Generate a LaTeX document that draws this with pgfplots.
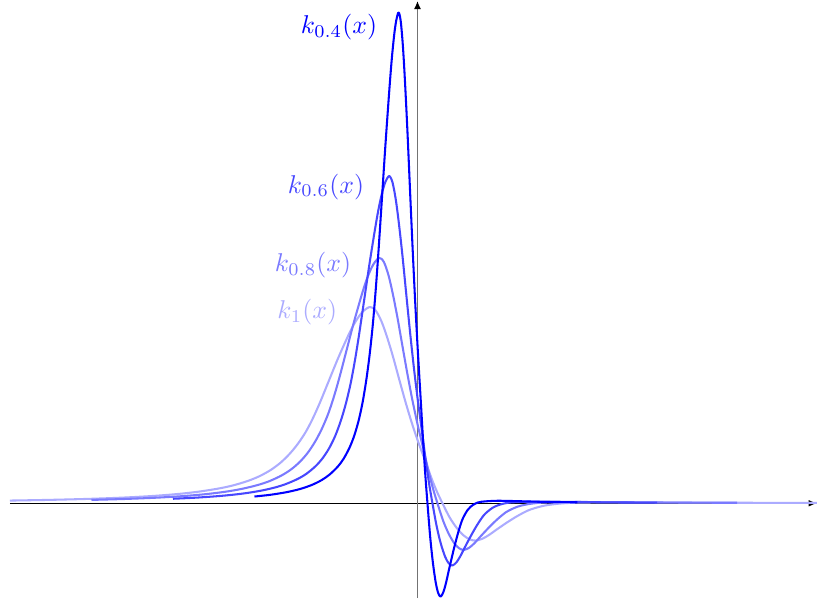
\documentclass[border=0pt]{standalone}
\usepackage{pgfplots}
\pgfplotsset{compat=1.18}
\usetikzlibrary{arrows.meta}
\colorlet{cA}{blue}
\colorlet{cB}{blue!72}
\colorlet{cC}{blue!52}
\colorlet{cD}{blue!33}
\begin{document}
\begin{tikzpicture}
\begin{axis}[
  x=0.388pt, y=0.388pt,
  xmin=-418, xmax=400, ymin=-100, ymax=503,
  axis line style={draw=none}, ticks=none, clip=false,
  every axis plot/.append style={line width=0.8pt, line join=round, smooth, tension=0.5},
]
\path (axis cs:-418,-100) rectangle (axis cs:400,503);
\draw[black, line width=0.5pt, -{Latex[length=3.2pt,width=2.6pt]}] (axis cs:-408,0) -- (axis cs:400,0);
\draw[black!55, line width=0.7pt, -{Latex[black,length=3.2pt,width=2.8pt]}] (axis cs:0,-95) -- (axis cs:0,503);

% k_1
\addplot[cD] coordinates {(-408,2.7) (-370,3.36) (-330,4.37) (-295,5.66) (-265,7.3) (-240,9.27) (-220,11.5) (-200,14.6) (-185,17.8) (-170,22.3) (-158,27.2) (-147,33.3) (-137,40.7) (-128,49.5) (-120,59.2) (-112,71.2) (-105,84.5) (-98,100) (-90,119.5) (-80,144) (-70,166.5) (-64,178.5) (-58,188) (-53,193.5) (-48,196.5) (-45,195.8) (-42,193.2) (-39,188.3) (-36,182) (-33,174) (-30,165) (-27,155.3) (-24,145) (-18,123) (-12,101.5) (-6,81.5) (0,63.5) (4,52.5) (7,44.5) (11,33.5) (15,22.5) (20,10.5) (25,0) (32,-13.8) (39,-24.3) (46,-32) (52,-36) (58,-37.4) (65,-35.5) (72,-31.5) (79,-26.5) (90,-19) (100,-12.8) (110,-7.5) (117,-5) (125,-2.8) (133,-1.4) (145,-0.1) (160,0.6) (200,1) (260,0.8) (330,0.5) (400,0.4)};
% k_0.8
\addplot[cC] coordinates {(-326.4,3.375) (-296,4.2) (-264,5.46) (-236,7.08) (-212,9.13) (-192,11.59) (-176,14.38) (-160,18.25) (-148,22.25) (-136,27.88) (-126.4,34) (-117.6,41.63) (-109.6,50.88) (-102.4,61.88) (-96,74) (-89.6,89) (-84,105.63) (-78.4,125) (-72,149.38) (-64,180) (-56,208.13) (-51.2,223.13) (-46.4,235) (-42.4,241.88) (-38.4,245.63) (-36,244.75) (-33.6,241.5) (-31.2,235.38) (-28.8,227.5) (-26.4,217.5) (-24,206.25) (-21.6,194.13) (-19.2,181.25) (-14.4,153.75) (-9.6,126.88) (-4.8,101.88) (0,79.38) (3.2,65.63) (5.6,55.63) (8.8,41.88) (12,28.13) (16,13.13) (20,0) (25.6,-17.25) (31.2,-30.38) (36.8,-40) (41.6,-45) (46.4,-46.75) (52,-44.38) (57.6,-39.38) (63.2,-33.13) (72,-23.75) (80,-16) (88,-9.38) (93.6,-6.25) (100,-3.5) (106.4,-1.75) (116,-0.13) (128,0.75) (160,1.25) (208,1) (264,0.63) (320,0.5)};
% k_0.6
\addplot[cB] coordinates {(-244.8,4.5) (-222,5.6) (-198,7.28) (-177,9.43) (-159,12.17) (-144,15.45) (-132,19.17) (-120,24.33) (-111,29.67) (-102,37.17) (-94.8,45.33) (-88.2,55.5) (-82.2,67.83) (-76.8,82.5) (-72,98.67) (-67.2,118.67) (-63,140.83) (-58.8,166.67) (-54,199.17) (-48,240) (-42,277.5) (-38.4,297.5) (-34.8,313.33) (-31.8,322.5) (-28.8,327.5) (-27,326.33) (-25.2,322) (-23.4,313.83) (-21.6,303.33) (-19.8,290) (-18,275) (-16.2,258.83) (-14.4,241.67) (-10.8,205) (-7.2,169.17) (-3.6,135.83) (0,105.83) (2.4,87.5) (4.2,74.17) (6.6,55.83) (9,37.5) (12,17.5) (15,0) (19.2,-23) (23.4,-40.5) (27.6,-53.33) (31.2,-60) (34.8,-62.33) (39,-59.17) (43.2,-52.5) (47.4,-44.17) (54,-31.67) (60,-21.33) (66,-12.5) (70.2,-8.33) (75,-4.67) (79.8,-2.33) (87,-0.17) (96,1) (120,1.67) (156,1.33) (198,0.83) (240,0.67)};
% k_0.4
\addplot[cA] coordinates {(-163.2,6.75) (-148,8.4) (-132,10.93) (-118,14.15) (-106,18.25) (-96,23.18) (-88,28.75) (-80,36.5) (-74,44.5) (-68,55.75) (-63.2,68) (-58.8,83.25) (-54.8,101.75) (-51.2,123.75) (-48,148) (-44.8,178) (-42,211.25) (-39.2,250) (-36,298.75) (-32,360) (-28,416.25) (-25.6,446.25) (-23.2,470) (-21.2,483.75) (-19.2,491.25) (-18,489.5) (-16.8,483) (-15.6,470.75) (-14.4,455) (-13.2,435) (-12,412.5) (-10.8,388.25) (-9.6,362.5) (-7.2,307.5) (-4.8,253.75) (-2.4,203.75) (0,158.75) (1.6,131.25) (2.8,111.25) (4.4,83.75) (6,56.25) (8,26.25) (10,0) (12.8,-34.5) (15.6,-60.75) (18.4,-80) (20.8,-90) (23.2,-93.5) (26,-88.75) (28.8,-78.75) (31.6,-66.25) (36,-47.5) (40,-32) (44,-18.75) (46.8,-12.5) (50,-7) (53.2,-3.5) (58,-0.25) (64,1.5) (80,2.5) (104,2) (132,1.25) (160,1)};

\node[anchor=east, inner sep=0pt, text=cA] at (axis cs:-40,477) {$k_{0.4}(x)$};
\node[anchor=east, inner sep=0pt, text=cB] at (axis cs:-53,317) {$k_{0.6}(x)$};
\node[anchor=east, inner sep=0pt, text=cC] at (axis cs:-66,238) {$k_{0.8}(x)$};
\node[anchor=east, inner sep=0pt, text=cD] at (axis cs:-80,191) {$k_{1}(x)$};
\end{axis}
\end{tikzpicture}
\end{document}
